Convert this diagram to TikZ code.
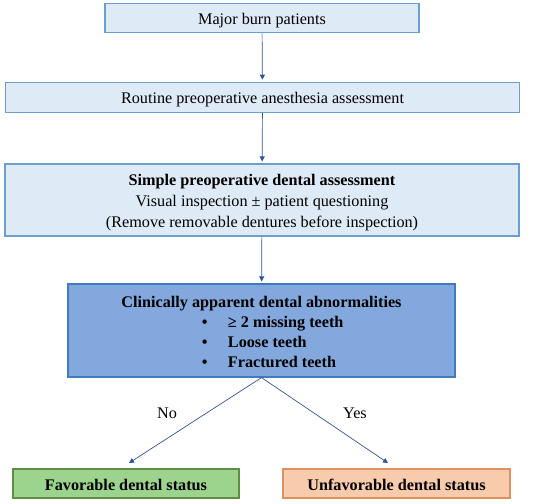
\documentclass[tikz,border=0pt]{standalone}
\usepackage{fontspec}
\setmainfont{Liberation Serif}
\usetikzlibrary{arrows.meta}
\definecolor{lbfill}{HTML}{DEEBF7}
\definecolor{lbdraw}{HTML}{6A9FCF}
\definecolor{dbfill}{HTML}{82A8DE}
\definecolor{dbdraw}{HTML}{3F7CBF}
\definecolor{gfill}{HTML}{9CD48E}
\definecolor{gdraw}{HTML}{5E8E45}
\definecolor{ofill}{HTML}{F8CBAD}
\definecolor{odraw}{HTML}{E0905E}
\definecolor{arr}{HTML}{2F5597}
\newcommand{\topstrut}[1]{\rule{0pt}{#1}}
\newcommand{\botstrut}[1]{\rule[-#1]{0pt}{0pt}}
\newcommand{\bulletline}[1]{\makebox[119pt][l]{\textbullet\hspace{20.3pt}#1}}
\tikzset{
  box/.style={draw=lbdraw, fill=lbfill, line width=1.2pt, inner sep=0pt, align=center,
    font=\fontsize{16.2}{21}\selectfont},
  oneline/.style={text height=14pt, text depth=1pt},
  darkbox/.style={box, draw=dbdraw, fill=dbfill, font=\fontsize{16.2}{20}\selectfont\bfseries},
  greenbox/.style={box, oneline, draw=gdraw, fill=gfill},
  orangebox/.style={box, oneline, draw=odraw, fill=ofill},
  conn/.style={draw=arr, line width=0.7pt, -{Triangle[width=5pt,length=5pt]}},
  lbl/.style={font=\fontsize{16.2}{19}\selectfont}
}
\begin{document}
\begin{tikzpicture}[x=1pt,y=-1pt]
\useasboundingbox (0,0) rectangle (550,504);
\node[box, oneline, minimum width=314pt, minimum height=29pt] (b1) at (262,18.3) {Major burn patients};
\node[box, oneline, minimum width=514pt, minimum height=30pt] (b2) at (262.5,97.3) {Routine preoperative anesthesia assessment};
\node[box, minimum width=514pt, minimum height=72pt] (b3) at (262,200) {\topstrut{21pt}\textbf{Simple preoperative dental assessment}\\Visual inspection ± patient questioning\\(Remove removable dentures before inspection)\botstrut{9pt}};
\node[darkbox, minimum width=387pt, minimum height=93pt] (b4) at (261.5,330.5) {\topstrut{23pt}Clinically apparent dental abnormalities\\
\bulletline{≥ 2 missing teeth}\\
\bulletline{Loose teeth}\\
\bulletline{Fractured teeth}\botstrut{10pt}};
\node[greenbox, minimum width=226pt, minimum height=29pt] (b5) at (126,483.5) {\textbf{Favorable dental status}};
\node[orangebox, minimum width=227pt, minimum height=29pt] (b6) at (396.5,483.5) {\textbf{Unfavorable dental status}};
\coordinate (e5) at (129,463);
\coordinate (e6) at (388,463);
\draw[conn, shorten >=2pt] (b1) -- (b2);
\draw[conn, shorten >=2pt] (b2) -- (b3);
\draw[conn, shorten >=2pt] (b3) -- (b4);
\draw[conn] (b4.south) -- (e5);
\draw[conn] (b4.south) -- (e6);
\node[lbl] (no) at (167,413) {No};
\node[lbl] (yes) at (355,413) {Yes};
\end{tikzpicture}
\end{document}
